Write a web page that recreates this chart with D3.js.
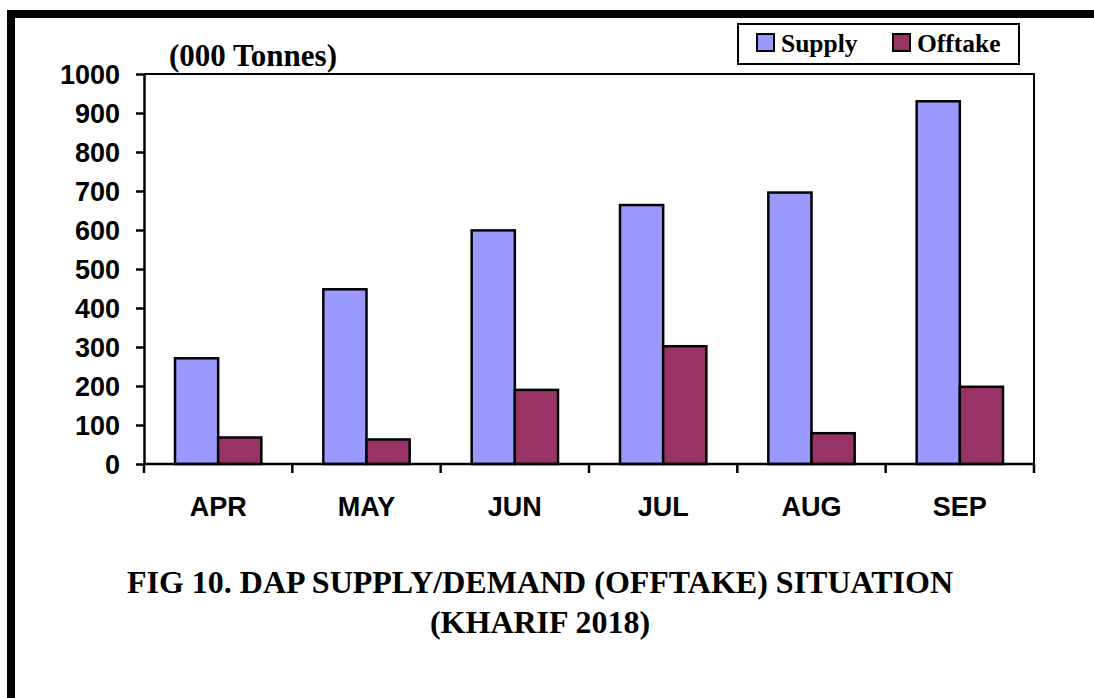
<!DOCTYPE html>
<html>
<head>
<meta charset="utf-8">
<script src="https://cdn.jsdelivr.net/npm/d3@7"></script>
<style>
  body { margin: 0; background: #fff; }
  svg { display: block; }
  .tick text { font-family: "Liberation Sans", Arial, sans-serif; font-weight: bold; }
</style>
</head>
<body>
<svg id="chart" width="1094" height="698"></svg>
<script>
// DAP supply vs offtake, Kharif 2018

var months = ["APR", "MAY", "JUN", "JUL", "AUG", "SEP"];
var supply = [271, 448, 599, 664, 696, 930];
var offtake = [68, 63, 190, 302, 79, 198];
var seriesNames = ["Supply", "Offtake"];
var seriesColors = ["#9999FF", "#993366"];
var yTicks = [0, 100, 200, 300, 400, 500, 600, 700, 800, 900, 1000];

var svg = d3.select("#chart");

// page frame (thick top and left rule)
svg.append("rect").attr("x", 7).attr("y", 10).attr("width", 1094).attr("height", 8).attr("fill", "#000");
svg.append("rect").attr("x", 7).attr("y", 10).attr("width", 8).attr("height", 698).attr("fill", "#000");

var plotL = 144, plotR = 1034, plotT = 74, plotB = 464;

var x = d3.scaleBand().domain(months).range([plotL, plotR]);
var inner = d3.scaleBand().domain(seriesNames).range([31, x.bandwidth() - 31]);
var y = d3.scaleLinear().domain([0, 1000]).range([plotB, plotT]);

// plot box top + right
svg.append("path")
  .attr("d", "M" + plotL + "," + plotT + "H" + plotR + "V" + plotB)
  .attr("fill", "none").attr("stroke", "#000").attr("stroke-width", 2);

// bars
var rows = months.map(function(m, i){ return {month: m, vals: [supply[i], offtake[i]]}; });
var groups = svg.selectAll("g.cat").data(rows).enter().append("g")
  .attr("class", "cat")
  .attr("transform", function(d){ return "translate(" + x(d.month) + ",0)"; });

groups.selectAll("rect").data(function(d){ return d.vals; }).enter().append("rect")
  .attr("x", function(d, i){ return inner(seriesNames[i]); })
  .attr("y", function(d){ return y(d); })
  .attr("width", inner.bandwidth())
  .attr("height", function(d){ return plotB - y(d); })
  .attr("fill", function(d, i){ return seriesColors[i]; })
  .attr("stroke", "#000").attr("stroke-width", 2.5);

// y axis
var yAxis = svg.append("g").attr("transform", "translate(" + plotL + ",0)")
  .call(d3.axisLeft(y).tickValues(yTicks).tickFormat(d3.format("d")).tickSize(8).tickPadding(16).tickSizeOuter(0));
yAxis.selectAll("text").attr("font-size", 27).attr("fill", "#000").attr("dy", "0.36em");
yAxis.selectAll("line, path").attr("stroke", "#000").attr("stroke-width", 2.5);

// x axis, ticks at category boundaries
var xAxis = svg.append("g").attr("transform", "translate(0," + plotB + ")");
xAxis.append("line").attr("x1", plotL).attr("x2", plotR).attr("stroke", "#000").attr("stroke-width", 2.5);
var bounds = months.map(function(m){ return x(m); }).concat([plotR]);
xAxis.selectAll("line.tk").data(bounds).enter().append("line")
  .attr("class", "tk")
  .attr("x1", function(d){ return d; }).attr("x2", function(d){ return d; })
  .attr("y1", 0).attr("y2", 9)
  .attr("stroke", "#000").attr("stroke-width", 2.5);
xAxis.selectAll("text").data(months).enter().append("text")
  .attr("x", function(d){ return x(d) + x.bandwidth() / 2; })
  .attr("y", 52)
  .attr("text-anchor", "middle")
  .attr("font-family", "Liberation Sans, Arial, sans-serif")
  .attr("font-weight", "bold").attr("font-size", 27)
  .text(function(d){ return d; });

// unit label
svg.append("text").attr("x", 253).attr("y", 66).attr("text-anchor", "middle")
  .attr("font-family", "Liberation Serif, Times New Roman, serif")
  .attr("font-weight", "bold").attr("font-size", 31)
  .text("(000 Tonnes)");

// legend
var lg = svg.append("g");
lg.append("rect").attr("x", 738).attr("y", 24).attr("width", 281).attr("height", 40)
  .attr("fill", "#fff").attr("stroke", "#000").attr("stroke-width", 2);
var legX = [757, 893];
seriesNames.forEach(function(s, i){
  lg.append("rect").attr("x", legX[i]).attr("y", 34).attr("width", 17).attr("height", 17)
    .attr("fill", seriesColors[i]).attr("stroke", "#000").attr("stroke-width", 2);
  lg.append("text").attr("x", legX[i] + 24).attr("y", 52)
    .attr("font-family", "Liberation Serif, Times New Roman, serif")
    .attr("font-weight", "bold").attr("font-size", 25.5)
    .text(s);
});

// caption
var cap = ["FIG 10. DAP SUPPLY/DEMAND (OFFTAKE) SITUATION", "(KHARIF 2018)"];
svg.selectAll("text.cap").data(cap).enter().append("text")
  .attr("class", "cap")
  .attr("x", 540)
  .attr("y", function(d, i){ return 593 + i * 40; })
  .attr("text-anchor", "middle")
  .attr("font-family", "Liberation Serif, Times New Roman, serif")
  .attr("font-weight", "bold").attr("font-size", 32)
  .text(function(d){ return d; });
</script>
</body>
</html>
